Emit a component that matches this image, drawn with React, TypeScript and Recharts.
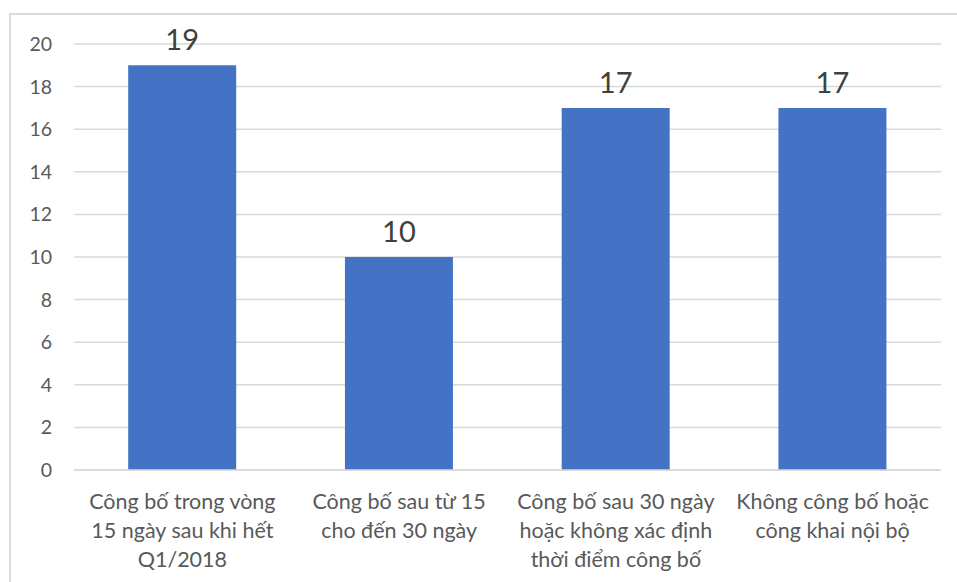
import React from "react";
import {
  BarChart,
  Bar,
  XAxis,
  YAxis,
  CartesianGrid,
  LabelList,
} from "recharts";

const categories = [
  "Công bố trong vòng\n15 ngày sau khi hết\nQ1/2018",
  "Công bố sau từ 15\ncho đến 30 ngày",
  "Công bố sau 30 ngày\nhoặc không xác định\nthời điểm công bố",
  "Không công bố hoặc\ncông khai nội bộ",
];
const counts = [19, 10, 17, 17];
const yTicks = [0, 2, 4, 6, 8, 10, 12, 14, 16, 18, 20];

const data = categories.map((name, i) => ({ name, value: counts[i] }));

const FONT = "Lato, 'Open Sans', sans-serif";

const CategoryTick = (props: any) => {
  const { x, y, payload } = props;
  const lines = String(payload.value).split("\n");
  return (
    <text
      x={x}
      y={y}
      textAnchor="middle"
      fill="#595959"
      fontSize={21.5}
      fontFamily={FONT}
    >
      {lines.map((line, i) => (
        <tspan key={i} x={x} dy={i === 0 ? 31 : 29}>
          {line}
        </tspan>
      ))}
    </text>
  );
};

export default function App() {
  return (
    <div
      style={{
        position: "absolute",
        left: 0,
        top: 0,
        width: 957,
        height: 582,
        background: "#ffffff",
        overflow: "hidden",
      }}
    >
      <div
        style={{
          position: "absolute",
          left: 9,
          top: 13,
          width: 960,
          height: 600,
          borderLeft: "2px solid #d9d9d9",
          borderTop: "2px solid #d9d9d9",
        }}
      />
      <BarChart
        width={957}
        height={582}
        data={data}
        margin={{ top: 44, right: 16, left: 0, bottom: 0 }}
        barCategoryGap="25%"
        style={{ position: "absolute", left: 0, top: 0 }}
      >
        <CartesianGrid vertical={false} stroke="#d9d9d9" strokeWidth={1.5} />
        <XAxis
          dataKey="name"
          height={112}
          tickLine={false}
          axisLine={{ stroke: "#d9d9d9", strokeWidth: 1.5 }}
          tick={<CategoryTick />}
          interval={0}
        />
        <YAxis
          width={74}
          domain={[0, 20]}
          ticks={yTicks}
          tickLine={false}
          axisLine={false}
          tickSize={0}
          tickMargin={22}
          tick={{ fill: "#595959", fontSize: 19.5, fontFamily: FONT }}
        />
        <Bar dataKey="value" fill="#4472c4" isAnimationActive={false}>
          <LabelList
            dataKey="value"
            position="top"
            offset={15}
            fill="#404040"
            fontSize={29}
            fontFamily={FONT}
          />
        </Bar>
      </BarChart>
    </div>
  );
}
